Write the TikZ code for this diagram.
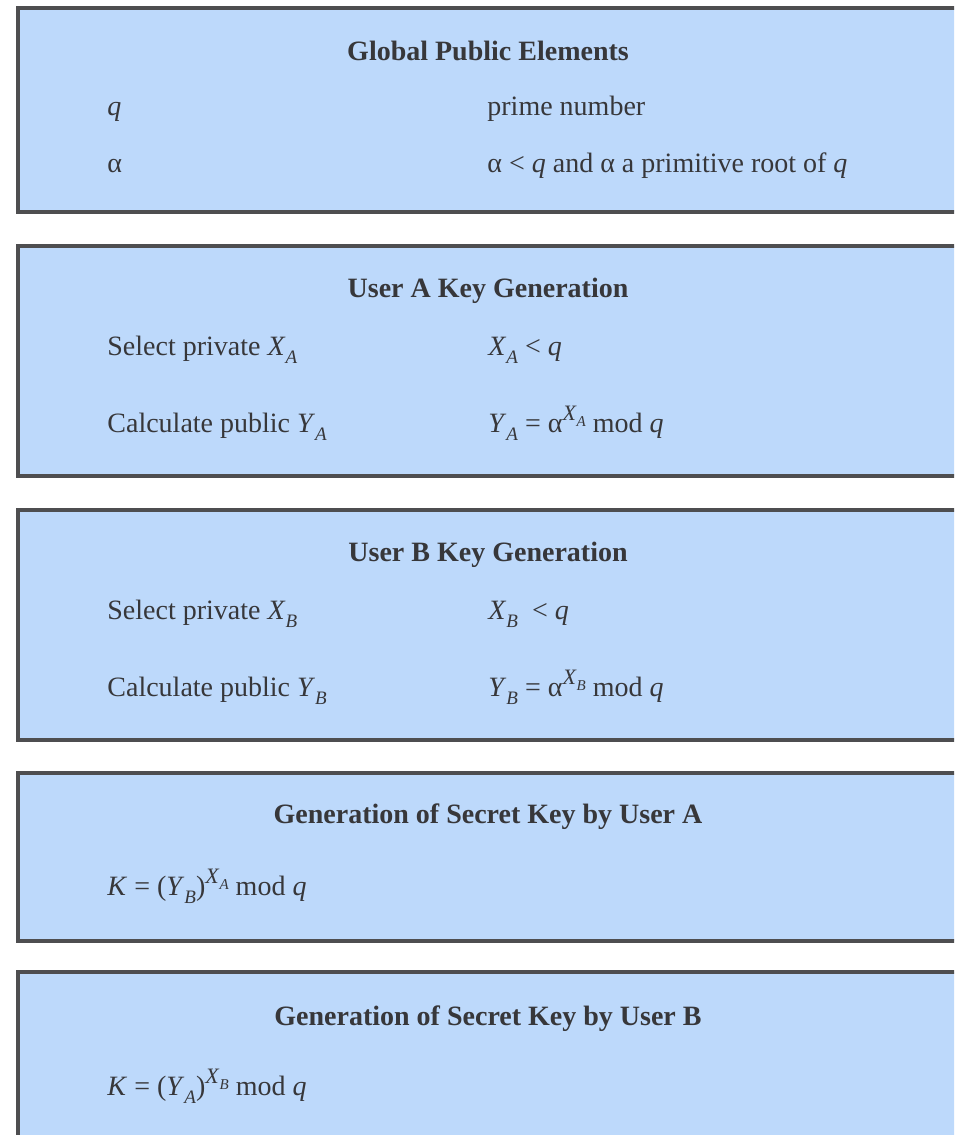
\documentclass[tikz,border=0pt]{standalone}
\usepackage{fontspec}
\setmainfont{Liberation Serif}
\usepackage{tikz}

\definecolor{panelblue}{RGB}{189,217,251}
\definecolor{panelline}{RGB}{78,78,80}
\definecolor{inktext}{RGB}{55,55,58}

% italic variable with lowered index
\newcommand{\vsub}[2]{\textit{#1}\raisebox{-0.32em}{\fontsize{9.5}{9.5}\selectfont\textit{#2}}}
% raised exponent X_A, X_B
\newcommand{\vexp}[2]{\raisebox{0.4em}{\fontsize{11}{11}\selectfont\textit{#1}\raisebox{-0.25em}{\fontsize{7.5}{7.5}\selectfont\textit{#2}}}}

\begin{document}
\begin{tikzpicture}[
    x=0.5pt, y=-0.5pt,
    panel/.style={
        fill=panelblue,
        draw=panelline,
        line width=2.2pt
    },
    heading/.style={font=\fontsize{14}{16}\selectfont\bfseries, text=inktext, inner sep=0pt, anchor=base},
    entry/.style={font=\fontsize{14}{16}\selectfont, text=inktext, inner sep=0pt, anchor=base west}
]
\useasboundingbox (0,0) rectangle (954,1135);
\clip (0,0) rectangle (954,1135);

% the five panels
\foreach \ptop/\pbot in {8/212, 246/476, 510/740, 773/941, 972/1170}
    \draw[panel] (18,\ptop) rectangle (990,\pbot);

% global public elements
\node[heading] (globalhead) at (488,60) {Global Public Elements};
\node[entry] (qname) at (107,115) {\textit{q}};
\node[entry] (qdesc) at (487,115) {prime number};
\node[entry] (alphaname) at (107,172) {α};
\node[entry] (alphadesc) at (487,172) {α < \textit{q} and α a primitive root of \textit{q}};

% user A
\node[heading] (userahead) at (488,297) {User A Key Generation};
\node[entry] (selecta) at (107,355) {Select private \vsub{X}{A}};
\node[entry] (privatea) at (488,355) {\vsub{X}{A} < \textit{q}};
\node[entry] (calca) at (107,432) {Calculate public \vsub{Y}{A}};
\node[entry] (publica) at (488,432) {\vsub{Y}{A} = α\vexp{X}{A} mod \textit{q}};

% user B
\node[heading] (userbhead) at (488,561) {User B Key Generation};
\node[entry] (selectb) at (107,619) {Select private \vsub{X}{B}};
\node[entry] (privateb) at (488,619) {\vsub{X}{B}\ \ < \textit{q}};
\node[entry] (calcb) at (107,696) {Calculate public \vsub{Y}{B}};
\node[entry] (publicb) at (488,696) {\vsub{Y}{B} = α\vexp{X}{B} mod \textit{q}};

% secret keys
\node[heading] (secretahead) at (488,823) {Generation of Secret Key by User A};
\node[entry] (secreta) at (107,895) {\textit{K} = (\vsub{Y}{B})\vexp{X}{A} mod \textit{q}};

\node[heading] (secretbhead) at (488,1025) {Generation of Secret Key by User B};
\node[entry] (secretb) at (107,1095) {\textit{K} = (\vsub{Y}{A})\vexp{X}{B} mod \textit{q}};

\end{tikzpicture}
\end{document}
